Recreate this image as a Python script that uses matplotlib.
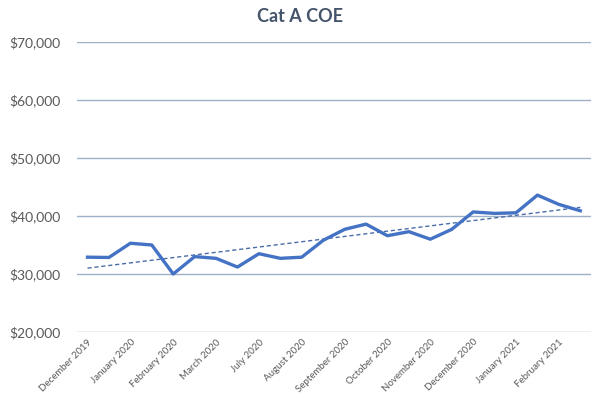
import numpy as np
import matplotlib
matplotlib.use("Agg")
import matplotlib.pyplot as plt
from matplotlib.ticker import FuncFormatter

plt.rcParams['font.family'] = ['Lato', 'DejaVu Sans']

# monthly-ish COE premiums
coe = [32900, 32850, 35300, 35000, 30000, 33000, 32700, 31200,
       33500, 32700, 32900, 35800, 37700, 38600, 36600, 37300,
       36000, 37700, 40700, 40450, 40550, 43600, 42000, 40900]
tick_labels = ['December 2019', 'January 2020', 'February 2020', 'March 2020',
               'July 2020', 'August 2020', 'September 2020', 'October 2020',
               'November 2020', 'December 2020', 'January 2021', 'February 2021']

x = np.arange(len(coe))
slope, icpt = np.polyfit(x, coe, 1)
trend = slope * x + icpt

fig = plt.figure(figsize=(6, 4), dpi=100)
ax = fig.add_axes([0.128, 0.17, 0.857, 0.725])

ax.plot(x, coe, color='#4472C4', lw=2.4, solid_joinstyle='round', zorder=3)
ax.plot(x, trend, color='#4A6DA8', lw=1.0, ls=(0, (3, 2)), zorder=2)

ax.set_xlim(-0.5, len(coe) - 0.5)
ax.set_ylim(20000, 70000)
ax.set_yticks(np.arange(20000, 70001, 10000))
ax.yaxis.set_major_formatter(FuncFormatter(lambda v, p: '${:,.0f}'.format(v)))
ax.grid(axis='y', color='#9DB0C6', lw=1.0)
ax.set_axisbelow(True)
for s in ax.spines.values():
    s.set_visible(False)

ax.set_xticks(x[::2])
ax.set_xticklabels(tick_labels, rotation=45, ha='right', rotation_mode='anchor',
                   fontsize=7, color='#595959')
ax.tick_params(axis='x', length=0, pad=4)
ax.tick_params(axis='y', length=0, pad=12, labelsize=10, labelcolor='#595959')

fig.text(0.5, 0.958, 'Cat A COE', ha='center', va='center', fontsize=13,
         fontweight='bold', color='#44546A')

fig.savefig('out.png')
plt.close()
